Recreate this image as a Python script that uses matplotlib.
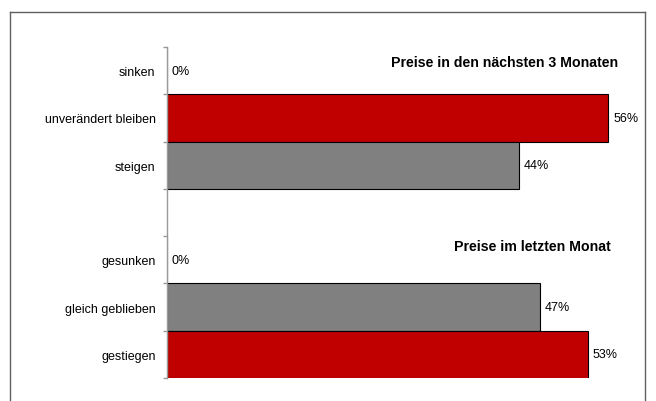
import matplotlib
matplotlib.use('Agg')
import matplotlib.pyplot as plt
from matplotlib.lines import Line2D

# data
cats_future = ['sinken', 'unverändert bleiben', 'steigen']
vals_future = [0, 55.6, 44.4]
cols_future = ['#C00000', '#C00000', '#808080']

cats_past = ['gesunken', 'gleich geblieben', 'gestiegen']
vals_past = [0, 47.0, 53.0]
cols_past = ['#808080', '#808080', '#C00000']

title_future = 'Preise in den nächsten 3 Monaten'
title_past = 'Preise im letzten Monat'

plt.rcParams['font.family'] = ['Liberation Sans', 'DejaVu Sans']

W, H = 656, 402
fg = plt.figure(figsize=(W / 100, H / 100), dpi=100)

# outer frame (bottom edge lies below the picture); coords in px from top-left
fc = '#606060'
for xs, ys in [((10, 10), (410, 13)), ((10, 645), (13, 13)), ((645, 645), (13, 410))]:
    fg.add_artist(Line2D([x / W for x in xs], [1 - y / H for y in ys],
                         transform=fg.transFigure, color=fc, lw=1))

# axes: 0 at x=166.7, 7.94 px per percent, rows from y=48 to y=379
x0, px_per = 166.7, 7.94
xmax = 58
ax = fg.add_axes([x0 / W, 1 - 379 / H, xmax * px_per / W, (379 - 48) / H])

cats = cats_future + [''] + cats_past
vals = vals_future + [None] + vals_past
cols = cols_future + [None] + cols_past
ypos = list(range(len(cats)))

for y, v, c in zip(ypos, vals, cols):
    if v is None:
        continue
    ax.barh(y, v, height=1.0, color=c, edgecolor='black', linewidth=0.8)
    ax.annotate(f'{round(v)}%', (v, y), xytext=(3.5, 0), textcoords='offset points',
                va='center', ha='left', fontsize=9)

ax.set_xlim(0, xmax)
ax.set_ylim(len(cats) - 0.5, -0.5)

# ticks at row boundaries, labels at centres
ax.set_yticks([i - 0.5 for i in range(len(cats) + 1)])
ax.set_yticklabels([])
ax.tick_params(axis='y', which='major', length=3, color='#999999', width=1)
ax.set_yticks(ypos, minor=True)
ax.set_yticklabels(cats, minor=True, fontsize=9)
ax.tick_params(axis='y', which='minor', length=0, pad=8)
ax.set_xticks([])

for s in ['top', 'right', 'bottom']:
    ax.spines[s].set_visible(False)
ax.spines['left'].set_color('#999999')
ax.spines['left'].set_linewidth(1)

fg.text(391 / W, 1 - 63 / H, title_future, fontsize=10.2, fontweight='bold', va='center', ha='left')
fg.text(454 / W, 1 - 247 / H, title_past, fontsize=10.2, fontweight='bold', va='center', ha='left')

fg.savefig('out.png', dpi=100)
